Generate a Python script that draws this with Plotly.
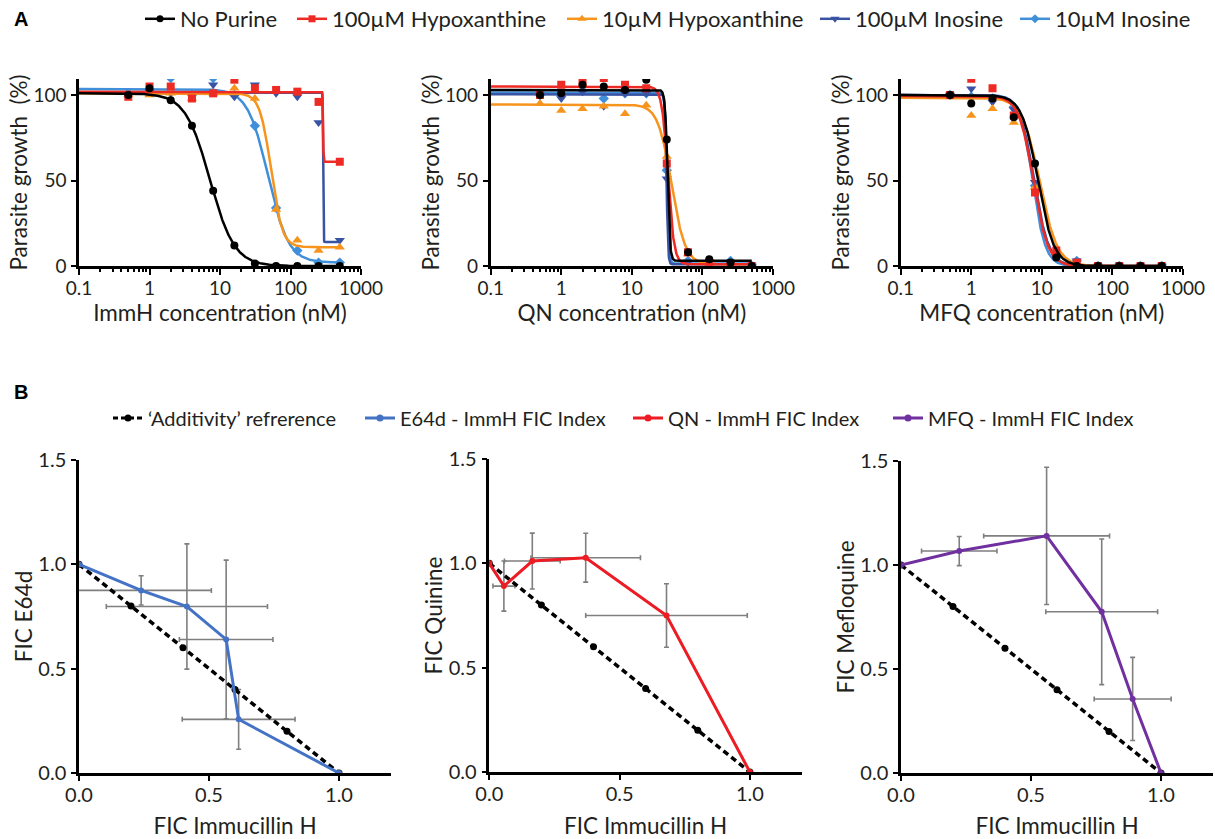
import numpy as np
import plotly.graph_objects as go

# ---------------- DATA ----------------
conc = [0.5, 1, 2, 4, 8, 16, 31.25, 62.5, 125, 250, 500]
series_names = ["No Purine", "100µM Hypoxanthine", "10µM Hypoxanthine", "100µM Inosine", "10µM Inosine"]
series_colors = ["#000000", "#EE2A24", "#F7941D", "#3953A4", "#3F8FDB"]
series_symbols = ["circle", "square", "triangle-up", "triangle-down", "diamond"]
series_sizes = [8, 8, 9, 9, 8]

# ImmH panel (parasite growth %)
immh_no_purine = [100, 104, 97, 82, 44, 12, 1.5, 0, 0, 0, 0]
immh_hyp100 = [99, 105, 105, 98, 101, 109, 104, 103, 102, 96, 61]
immh_hyp10 = [100, 100, 101, 98, 101, 104, 98, 33, 15, 9, 11]
immh_ino100 = [101, 102, 101, 101, 106, 99, 106, 101, 99, 84, 15]
immh_ino10 = [101, 102, 110, 100, 110, 100, 82, 34, 9, 2, 2]
# fitted dose-response parameters [top, bottom, IC50, hill]
immh_fit_no_purine = [101, 0, 7.2, 2.5]
immh_fit_hyp100 = [102, 61, 290, 150]
immh_fit_hyp10 = [101, 11, 53, 5.5]
immh_fit_ino100 = [101.5, 14, 290, 150]
immh_fit_ino10 = [103.5, 2, 48, 3]

# QN panel
qn_no_purine = [100, 101, 106, 105, 103, 109, 74, 8, 4, 2, 0]
qn_hyp100 = [100, 106, 107, 110, 106, 104, 60, 8, 2, 1, 0]
qn_hyp10 = [95, 91, 92, 93.5, 89, 94, 64, 7, 1, 1, 0]
qn_ino100 = [100, 98, 102, 93.5, 101, 101, 51, 2, 0, 2, 0]
qn_ino10 = [100, 100, 102.5, 98, 101, 101, 56, 3, 1, 3, 0]
qn_fit_no_purine = [103, 3, 32, 25]
qn_fit_hyp100 = [105, 1, 32.5, 10]
qn_fit_hyp10 = [94.5, 1, 36.5, 4.5]
qn_fit_ino100 = [100.5, 1, 31, 40]
qn_fit_ino10 = [101.5, 1.5, 31.5, 30]

# MFQ panel
mfq_no_purine = [100, 95, 98, 87, 60, 5, 0, 0, 0, 0, 0]
mfq_hyp100 = [100, 109.6, 104, 88, 43, 9, 2, 0, 0, 0, 0]
mfq_hyp10 = [99, 88, 92, 84, 46, 8, 0, 0, 0, 0, 0]
mfq_ino100 = [100, 103.7, 96, 91.5, 49, 7, 3, 0, 0, 0, 0]
mfq_ino10 = [100, 99, 98, 93, 47, 5, 3, 0, 0, 0, 0]
mfq_fit_no_purine = [100, 0, 8.8, 3.8]
mfq_fit_hyp100 = [99.5, 0, 7.6, 4.2]
mfq_fit_hyp10 = [98.5, 0, 9.3, 3.5]
mfq_fit_ino100 = [100, 0, 7.8, 4.2]
mfq_fit_ino10 = [100, 0, 7.4, 4.8]

x_tick_labels = ["0.1", "1", "10", "100", "1000"]
x_tick_vals = [0.1, 1, 10, 100, 1000]
a_titles = ["ImmH concentration (nM)", "QN concentration (nM)", "MFQ concentration (nM)"]

# FIC isobolograms
add_x = [0, 0.2, 0.4, 0.6, 0.8, 1.0]
add_y = [1.0, 0.8, 0.6, 0.4, 0.2, 0.0]

e64d_x = [0, 0.239, 0.415, 0.566, 0.614, 1.0]
e64d_y = [1.0, 0.875, 0.798, 0.64, 0.257, 0.0]
e64d_xerr = [0, 0.27, 0.31, 0.18, 0.217, 0]
e64d_yerr = [0, 0.07, 0.30, 0.38, 0.143, 0]

qn_fic_x = [0, 0.056, 0.165, 0.37, 0.68, 1.0]
qn_fic_y = [1.0, 0.891, 1.011, 1.027, 0.75, 0.0]
qn_fic_xerr = [0, 0.042, 0.107, 0.21, 0.31, 0]
qn_fic_yerr = [0, 0.12, 0.134, 0.117, 0.152, 0]

mfq_fic_x = [0, 0.224, 0.56, 0.772, 0.891, 1.0]
mfq_fic_y = [1.0, 1.067, 1.14, 0.775, 0.356, 0.0]
mfq_fic_xerr = [0, 0.145, 0.242, 0.215, 0.148, 0]
mfq_fic_yerr = [0, 0.07, 0.33, 0.35, 0.2, 0]

b_names = ["E64d - ImmH FIC Index", "QN - ImmH FIC Index", "MFQ - ImmH FIC Index"]
b_colors = ["#4472C4", "#ED1C24", "#7030A0"]
b_ytitles = ["FIC E64d", "FIC Quinine", "FIC Mefloquine"]

# ---------------- FIGURE ----------------
W, H = 1215, 839
FONT = "Lato"
TXT = "#231F20"
ERR = "#7F7F7F"

def px_x(p):
    return p / W

def px_y(p):
    return 1 - p / H

def hill(x, p):
    top, bottom, ic50, h = p
    return bottom + (top - bottom) / (1 + (x / ic50) ** h)

fig = go.Figure()

a_values = [
    [immh_no_purine, immh_hyp100, immh_hyp10, immh_ino100, immh_ino10],
    [qn_no_purine, qn_hyp100, qn_hyp10, qn_ino100, qn_ino10],
    [mfq_no_purine, mfq_hyp100, mfq_hyp10, mfq_ino100, mfq_ino10],
]
a_fits = [
    [immh_fit_no_purine, immh_fit_hyp100, immh_fit_hyp10, immh_fit_ino100, immh_fit_ino10],
    [qn_fit_no_purine, qn_fit_hyp100, qn_fit_hyp10, qn_fit_ino100, qn_fit_ino10],
    [mfq_fit_no_purine, mfq_fit_hyp100, mfq_fit_hyp10, mfq_fit_ino100, mfq_fit_ino10],
]
xc = np.logspace(-1, np.log10(conc[-1]), 800)
draw_order = [4, 3, 2, 1, 0]

for p in range(3):
    xa = "x" if p == 0 else f"x{p + 1}"
    ya = "y" if p == 0 else f"y{p + 1}"
    for s in draw_order:
        fig.add_trace(go.Scatter(
            x=xc, y=hill(xc, a_fits[p][s]), mode="lines",
            line=dict(color=series_colors[s], width=2.5),
            xaxis=xa, yaxis=ya, showlegend=False, hoverinfo="skip"))
        fig.add_trace(go.Scatter(
            x=conc, y=a_values[p][s], mode="markers",
            marker=dict(color=series_colors[s], symbol=series_symbols[s], size=series_sizes[s], line=dict(width=0)),
            xaxis=xa, yaxis=ya, showlegend=False))

# legend-only traces for panel A (one legend each for exact placement)
a_leg_text_x = [180, 332, 602, 855, 1055]
for s in range(5):
    lg = "legend" if s == 0 else f"legend{s + 1}"
    fig.add_trace(go.Scatter(
        x=[None], y=[None], mode="lines+markers", name=series_names[s],
        line=dict(color=series_colors[s], width=2.5),
        marker=dict(color=series_colors[s], symbol=series_symbols[s], size=series_sizes[s] - 1),
        legend=lg, showlegend=True))

b_data = [
    (e64d_x, e64d_y, e64d_xerr, e64d_yerr),
    (qn_fic_x, qn_fic_y, qn_fic_xerr, qn_fic_yerr),
    (mfq_fic_x, mfq_fic_y, mfq_fic_xerr, mfq_fic_yerr),
]
for p in range(3):
    xa = f"x{p + 4}"
    ya = f"y{p + 4}"
    bx, by, bxe, bye = b_data[p]
    fig.add_trace(go.Scatter(
        x=bx, y=by, mode="markers", marker=dict(size=1, opacity=0),
        error_x=dict(type="data", array=bxe, color=ERR, thickness=1.6, width=2.5),
        error_y=dict(type="data", array=bye, color=ERR, thickness=1.6, width=2.5),
        xaxis=xa, yaxis=ya, showlegend=False, hoverinfo="skip"))
    fig.add_trace(go.Scatter(
        x=add_x, y=add_y, mode="lines+markers",
        line=dict(color="black", width=3.5, dash="6px,4px"),
        marker=dict(color="black", size=7),
        xaxis=xa, yaxis=ya, showlegend=False))
    fig.add_trace(go.Scatter(
        x=bx, y=by, mode="lines+markers",
        line=dict(color=b_colors[p], width=3),
        marker=dict(color=b_colors[p], size=6),
        xaxis=xa, yaxis=ya, showlegend=False))

# legend-only traces for panel B
b_leg_text_x = [148, 400, 668, 928]
fig.add_trace(go.Scatter(
    x=[None], y=[None], mode="lines+markers", name="‘Additivity’ refrerence",
    line=dict(color="black", width=3, dash="5px,3px"), marker=dict(color="black", size=7),
    legend="legend6", showlegend=True))
for p in range(3):
    fig.add_trace(go.Scatter(
        x=[None], y=[None], mode="lines+markers", name=b_names[p],
        line=dict(color=b_colors[p], width=3), marker=dict(color=b_colors[p], size=7),
        legend=f"legend{p + 7}", showlegend=True))

layout = dict(
    width=W, height=H, margin=dict(l=0, r=0, t=0, b=0, autoexpand=False),
    paper_bgcolor="white", plot_bgcolor="white",
    font=dict(family=FONT, color=TXT, size=19),
    showlegend=True,
)

LEG_TEXT_OFF = 40
for s in range(5):
    key = "legend" if s == 0 else f"legend{s + 1}"
    layout[key] = dict(x=px_x(a_leg_text_x[s] - LEG_TEXT_OFF), y=px_y(19), xanchor="left", yanchor="middle",
                       orientation="h", bgcolor="rgba(0,0,0,0)", font=dict(size=22, family=FONT, color=TXT))
for k in range(4):
    key = f"legend{k + 6}"
    layout[key] = dict(x=px_x(b_leg_text_x[k] - LEG_TEXT_OFF), y=px_y(418), xanchor="left", yanchor="middle",
                       orientation="h", bgcolor="rgba(0,0,0,0)", font=dict(size=20, family=FONT, color=TXT))

# panel A axes
a_xdom_px = [(79, 361), (490.7, 773), (900.7, 1183)]
a_ydom_px = (79, 266)
minor_vals = [k * 10.0 ** e for e in range(-1, 3) for k in range(2, 10)]
for p in range(3):
    xk = "xaxis" if p == 0 else f"xaxis{p + 1}"
    yk = "yaxis" if p == 0 else f"yaxis{p + 1}"
    ya = "y" if p == 0 else f"y{p + 1}"
    xa = "x" if p == 0 else f"x{p + 1}"
    layout[xk] = dict(
        domain=[px_x(a_xdom_px[p][0]), px_x(a_xdom_px[p][1])], anchor=ya, automargin=False,
        type="log", range=[-1, 3], tickvals=x_tick_vals, ticktext=x_tick_labels,
        ticks="outside", ticklen=6, tickwidth=2, tickcolor="black",
        showline=True, linecolor="black", linewidth=2.5, showgrid=False, zeroline=False,
        minor=dict(ticks="outside", ticklen=3, tickwidth=1.5, tickcolor="black", tickvals=minor_vals, showgrid=False),
        tickfont=dict(size=19), ticklabelstandoff=-3,
        title=dict(text=a_titles[p], font=dict(size=22.5), standoff=4),
    )
    layout[yk] = dict(
        domain=[px_y(a_ydom_px[1]), px_y(a_ydom_px[0])], anchor=xa, automargin=False,
        range=[0, 109.4], tickvals=[0, 50, 100],
        ticks="outside", ticklen=5, tickwidth=2, tickcolor="black",
        showline=True, linecolor="black", linewidth=2.5, showgrid=False, zeroline=False,
        tickfont=dict(size=19), ticklabelstandoff=1,
        title=dict(text="Parasite growth  (%)", font=dict(size=22.5), standoff=0),
    )

# panel B axes
b_xdom_px = [(79, 391), (489.3, 802), (901, 1213)]
b_ydom_px = [(460, 773), (459, 772), (461, 773)]
for p in range(3):
    xk = f"xaxis{p + 4}"
    yk = f"yaxis{p + 4}"
    layout[xk] = dict(
        domain=[px_x(b_xdom_px[p][0]), px_x(b_xdom_px[p][1])], anchor=f"y{p + 4}", automargin=False,
        range=[0, 1.2], tickvals=[0, 0.5, 1.0], tickformat=".1f",
        ticks="outside", ticklen=5, tickwidth=2, tickcolor="black",
        showline=True, linecolor="black", linewidth=2.5, showgrid=False, zeroline=False,
        tickfont=dict(size=20), ticklabelstandoff=-3,
        title=dict(text="FIC Immucillin H", font=dict(size=22.5), standoff=17),
    )
    layout[yk] = dict(
        domain=[px_y(b_ydom_px[p][1]), px_y(b_ydom_px[p][0])], anchor=f"x{p + 4}", automargin=False,
        range=[0, 1.5], tickvals=[0, 0.5, 1.0, 1.5], tickformat=".1f",
        ticks="outside", ticklen=5, tickwidth=2, tickcolor="black",
        showline=True, linecolor="black", linewidth=2.5, showgrid=False, zeroline=False,
        tickfont=dict(size=20), ticklabelstandoff=1,
        title=dict(text=b_ytitles[p], font=dict(size=22.5), standoff=0),
    )

layout["annotations"] = [
    dict(text="<b>A</b>", x=px_x(12), y=px_y(19), xref="paper", yref="paper", xanchor="left", yanchor="middle",
         showarrow=False, font=dict(size=20, family="Liberation Sans", color="black")),
    dict(text="<b>B</b>", x=px_x(12), y=px_y(392), xref="paper", yref="paper", xanchor="left", yanchor="middle",
         showarrow=False, font=dict(size=20, family="Liberation Sans", color="black")),
]

fig.update_layout(**layout)
fig.write_html("out.html", config={"displayModeBar": False},
               post_script="document.body.style.margin='0px';")
